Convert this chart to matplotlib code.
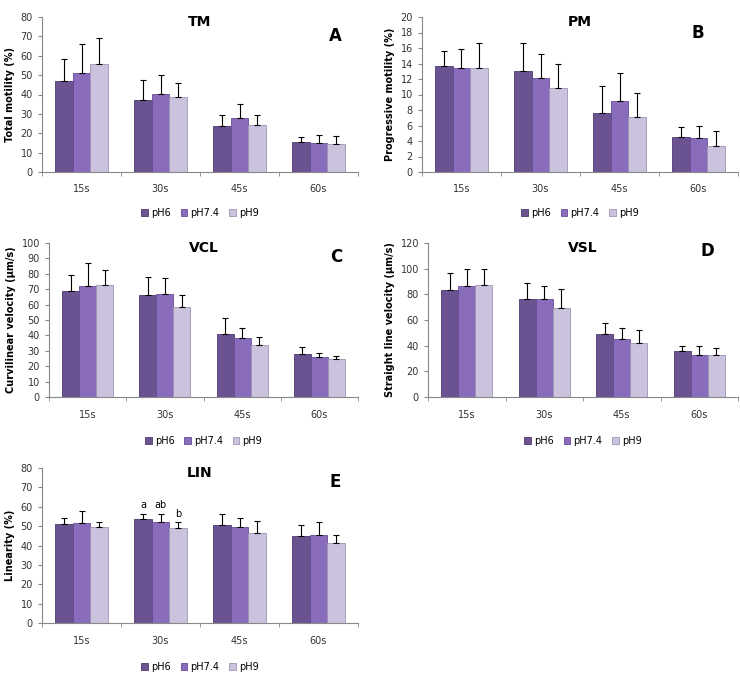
import numpy as np
import matplotlib
matplotlib.use("Agg")
import matplotlib.pyplot as plt

times = ["15s", "30s", "45s", "60s"]
groups = ["pH6", "pH7.4", "pH9"]

# Total motility (%)
tm_ph6 = [47, 37, 24, 15.5]
tm_ph74 = [51, 40.5, 28, 15]
tm_ph9 = [56, 38.5, 24.5, 14.5]
tm_err_ph6 = [11.5, 10.5, 5.5, 2.5]
tm_err_ph74 = [15, 9.5, 7, 4]
tm_err_ph9 = [13, 7.5, 5, 4]

# Progressive motility (%)
pm_ph6 = [13.7, 13.0, 7.6, 4.5]
pm_ph74 = [13.4, 12.1, 9.1, 4.4]
pm_ph9 = [13.4, 10.9, 7.1, 3.4]
pm_err_ph6 = [1.9, 3.6, 3.5, 1.3]
pm_err_ph74 = [2.5, 3.1, 3.7, 1.6]
pm_err_ph9 = [3.3, 3.1, 3.1, 1.9]

# VCL (um/s)
vcl_ph6 = [69, 66.5, 41, 28]
vcl_ph74 = [72, 67, 38, 26]
vcl_ph9 = [72.5, 58.5, 34, 24.5]
vcl_err_ph6 = [10.5, 11.5, 10, 4.5]
vcl_err_ph74 = [15, 10, 6.5, 2.5]
vcl_err_ph9 = [10, 8, 5, 2]

# VSL (um/s)
vsl_ph6 = [83, 76.5, 49, 36]
vsl_ph74 = [86.5, 76.5, 45.5, 33]
vsl_ph9 = [87.5, 69, 42, 32.5]
vsl_err_ph6 = [14, 12.5, 9, 3.5]
vsl_err_ph74 = [13, 10, 8.5, 6.5]
vsl_err_ph9 = [12.5, 15, 10.5, 5.5]

# Linearity (%)
lin_ph6 = [51, 53.5, 50.5, 45]
lin_ph74 = [51.5, 52, 49.5, 45.5]
lin_ph9 = [49.5, 49, 46.5, 41.5]
lin_err_ph6 = [3, 3, 6, 5.5]
lin_err_ph74 = [6.5, 4.5, 4.5, 6.5]
lin_err_ph9 = [2.5, 3, 6, 4]

colors = ["#6b5391", "#8a6cbc", "#cbc3dd"]
edges = ["#4e3a6e", "#664c94", "#9d94b3"]

W, H = 740, 677
fig = plt.figure(figsize=(W / 100, H / 100), dpi=100)


def px_axes(x0, y_top, x1, y_bot):
    return fig.add_axes([x0 / W, 1 - y_bot / H, (x1 - x0) / W, (y_bot - y_top) / H])


def panel(box, vals, errs, ymax, ystep, ylabel, title, letter, letter_xy, legend_y, notes=None):
    ax = px_axes(*box)
    x = np.arange(len(times))
    bw = 0.22
    for i, (v, e) in enumerate(zip(vals, errs)):
        pos = x + (i - 1) * bw
        ax.bar(pos, v, bw, color=colors[i], edgecolor=edges[i], linewidth=0.6,
               label=groups[i], zorder=2)
        ax.errorbar(pos, v, yerr=[np.zeros(len(e)), e], fmt="none", ecolor="black",
                    elinewidth=0.8, capsize=2.5, capthick=0.8, zorder=3)
    ax.set_xlim(-0.5, len(times) - 0.5)
    ax.set_ylim(0, ymax)
    ax.set_yticks(np.arange(0, ymax + ystep / 2, ystep))
    ax.set_xticks(x)
    ax.set_xticklabels(times)
    ax.set_xticks(np.arange(-0.5, len(times)), minor=True)
    ax.tick_params(axis="x", which="major", length=0, pad=9, labelsize=7, colors="#333333")
    ax.tick_params(axis="x", which="minor", length=3, color="#888888")
    ax.tick_params(axis="y", length=3, color="#888888", labelsize=7, colors="#333333")
    for s in ["top", "right"]:
        ax.spines[s].set_visible(False)
    for s in ["left", "bottom"]:
        ax.spines[s].set_color("#888888")
        ax.spines[s].set_linewidth(0.8)
    ax.set_ylabel(ylabel, fontsize=7, fontweight="bold")
    ax.text(0.5, 0.965, title, transform=ax.transAxes, ha="center", va="center",
            fontsize=10, fontweight="bold")
    ax.text(letter_xy[0], letter_xy[1], letter, transform=ax.transAxes, ha="center",
            va="center", fontsize=12, fontweight="bold")
    if notes:
        for (xi, gi, txt) in notes:
            top = vals[gi][xi] + errs[gi][xi]
            ax.text(xi + (gi - 1) * bw, top + ymax * 0.02, txt, ha="center",
                    va="bottom", fontsize=7)
    leg_y = (box[3] - legend_y) / (box[3] - box[1])
    ax.legend(loc="center", bbox_to_anchor=(0.5, leg_y), ncol=3, frameon=False,
              fontsize=7, handlelength=0.7, handleheight=0.7, handletextpad=0.3,
              columnspacing=1.0)
    return ax


panel((42, 17, 358, 172), [tm_ph6, tm_ph74, tm_ph9], [tm_err_ph6, tm_err_ph74, tm_err_ph9],
      80, 10, "Total motility (%)", "TM", "A", (0.927, 0.877), 213)
panel((422, 17, 738, 172), [pm_ph6, pm_ph74, pm_ph9], [pm_err_ph6, pm_err_ph74, pm_err_ph9],
      20, 2, "Progressive motility (%)", "PM", "B", (0.873, 0.90), 213)
panel((49, 243, 358, 397), [vcl_ph6, vcl_ph74, vcl_ph9], [vcl_err_ph6, vcl_err_ph74, vcl_err_ph9],
      100, 10, "Curvilinear velocity (µm/s)", "VCL", "C", (0.93, 0.91), 441)
panel((428, 243, 738, 397), [vsl_ph6, vsl_ph74, vsl_ph9], [vsl_err_ph6, vsl_err_ph74, vsl_err_ph9],
      120, 20, "Straight line velocity (µm/s)", "VSL", "D", (0.90, 0.95), 441)
panel((42, 468, 358, 623), [lin_ph6, lin_ph74, lin_ph9], [lin_err_ph6, lin_err_ph74, lin_err_ph9],
      80, 10, "Linearity (%)", "LIN", "E", (0.927, 0.91), 667,
      notes=[(1, 0, "a"), (1, 1, "ab"), (1, 2, "b")])

fig.savefig("out.png", dpi=100)
